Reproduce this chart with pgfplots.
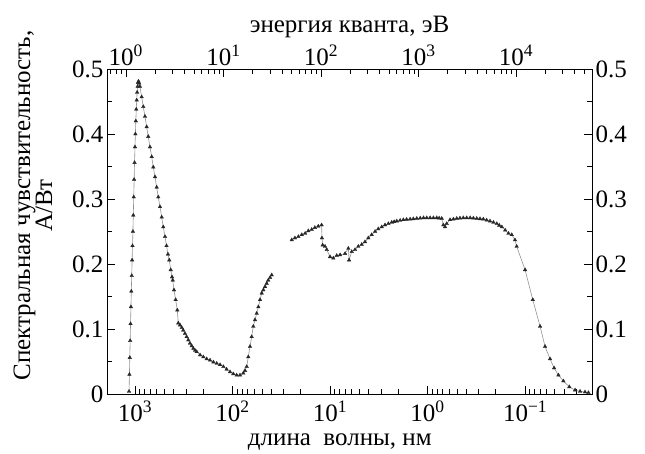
\documentclass[border=0pt]{standalone}
\usepackage{fontspec}
\setmainfont{Liberation Serif}
\usepackage{pgfplots}
\pgfplotsset{compat=1.18}
\begin{document}
\begin{tikzpicture}
\pgfplotsset{
  every axis/.append style={
    scale only axis, width=485pt, height=325pt,
    ymin=0, ymax=0.5,
    tick align=inside,
    major tick length=8pt, minor tick length=5pt,
    axis line style={line width=0.9pt},
    every tick/.style={black, line width=0.7pt},
    tick label style={font=\fontsize{25}{25}\selectfont},
    label style={font=\fontsize{25}{22}\selectfont},
    /pgf/number format/assume math mode=true,
    ytick={0,0.1,0.2,0.3,0.4,0.5},
    minor ytick={0.05,0.15,0.25,0.35,0.45},
    yticklabel style={/pgf/number format/fixed, /pgf/number format/precision=1},
  },
  curve/.style={gray!85, line width=0.6pt, mark=triangle*, mark size=2.1pt,
    mark options={fill=black!85, draw=black!85, line width=0.3pt}},
}
% wavelength axis (bottom, left)
\begin{axis}[name=main,
  xmode=log, x dir=reverse, xmin=0.0206, xmax=1936,
  xtick={1000,100,10,1,0.1},
  xticklabels={10\textsuperscript{3},10\textsuperscript{2},10\textsuperscript{1},10\textsuperscript{0},10\textsuperscript{−1}},
  minor xtick={200,300,400,500,600,700,800,900,20,30,40,50,60,70,80,90,2,3,4,5,6,7,8,9,0.2,0.3,0.4,0.5,0.6,0.7,0.8,0.9,0.03,0.04,0.05,0.06,0.07,0.08,0.09},
  xtick pos=left, ytick pos=left,
  xticklabel style={yshift=-3pt},
  xlabel={длина\ \ волны, нм},
  xlabel style={at={(ticklabel cs:0.48,5pt)}},
  ylabel={Спектральная чувствительность,\\А/Вт},
  ylabel style={align=center, at={(ticklabel cs:0.58,13pt)}},
]
\addplot[curve] coordinates {
(1150,0.004)(1140,0.030)(1130,0.056)(1120,0.082)(1110,0.108)(1100,0.134)
(1090,0.158)(1080,0.182)(1070,0.206)(1060,0.228)(1050,0.250)(1040,0.275)
(1030,0.303)(1020,0.330)(1010,0.356)(1000,0.380)(990,0.400)(980,0.420)
(970,0.438)(960,0.452)(950,0.464)(940,0.473)(930,0.479)(920,0.481)
(905,0.478)(889,0.473)(854,0.457)(822,0.442)(790,0.427)(759,0.411)
(731,0.396)(702,0.380)(674,0.365)(649,0.349)(623,0.334)(599,0.318)
(577,0.303)(554,0.288)(532,0.272)(513,0.257)(492,0.242)(475,0.228)
(459,0.215)(445,0.206)(430,0.191)(417,0.180)(410,0.175)(398,0.160)
(383,0.145)(368,0.129)(360,0.109)(345,0.106)(331,0.102)(320,0.098)
(307,0.093)(295,0.088)(284,0.083)(273,0.078)(262,0.074)(252,0.070)
(242,0.067)(233,0.065)(215,0.060)(199,0.057)(184,0.054)(170,0.052)
(157,0.049)(145,0.047)(134,0.045)(124,0.042)(115,0.038)(106,0.034)
(98.1,0.031)(90.6,0.029)(83.8,0.029)(77.5,0.032)(74.5,0.036)(71.5,0.042)
(68.9,0.057)(66.2,0.073)(63.6,0.088)(61.2,0.104)(58.8,0.114)(56.5,0.124)
(54.3,0.134)(52.2,0.145)(50.2,0.155)(48.3,0.160)(46.4,0.165)(44.6,0.170)
(43.0,0.175)(41.2,0.179)(39.6,0.183)
};
\addplot[curve] coordinates {
(24.7,0.237)(22.9,0.240)(21.1,0.242)(19.5,0.245)(18.0,0.247)(16.7,0.251)
(15.4,0.253)(14.3,0.256)(13.2,0.258)(12.2,0.260)(12.1,0.240)(11.9,0.229)
(11.25,0.227)(10.8,0.222)(10.0,0.211)(9.25,0.209)(8.54,0.213)(7.89,0.214)
(7.01,0.216)(6.49,0.224)(6.38,0.206)(5.99,0.219)(5.54,0.222)(5.13,0.227)
(4.73,0.230)(4.38,0.234)(4.05,0.240)(3.74,0.245)(3.45,0.250)(3.20,0.254)
(2.95,0.257)(2.73,0.260)(2.52,0.262)(2.33,0.264)(2.20,0.265)(2.07,0.266)
(1.91,0.267)(1.77,0.268)(1.64,0.2685)(1.51,0.269)(1.40,0.2695)(1.29,0.270)
(1.19,0.2705)(1.10,0.271)(1.02,0.271)(0.942,0.271)(0.871,0.271)(0.805,0.271)
(0.76,0.2705)(0.715,0.270)(0.689,0.260)(0.662,0.257)(0.636,0.262)(0.588,0.268)
(0.543,0.269)(0.502,0.270)(0.465,0.2705)(0.430,0.271)(0.397,0.271)(0.366,0.271)
(0.339,0.2705)(0.313,0.270)(0.290,0.2695)(0.268,0.269)(0.248,0.2675)(0.229,0.266)
(0.211,0.264)(0.195,0.262)(0.184,0.2595)(0.173,0.257)(0.160,0.252)(0.148,0.247)
(0.137,0.245)(0.127,0.237)(0.122,0.227)(0.100,0.191)(0.0834,0.145)(0.0702,0.104)
(0.0624,0.073)(0.0555,0.054)(0.0504,0.040)(0.0455,0.029)(0.0405,0.020)(0.0352,0.011)
(0.0307,0.006)(0.0273,0.004)(0.0243,0.003)(0.0224,0.002)
};
\end{axis}
% photon energy axis (top, right)
\begin{axis}[
  xmode=log, xmin=0.6405, xmax=60194,
  xtick={1,10,100,1000,10000},
  xticklabels={10\textsuperscript{0},10\textsuperscript{1},10\textsuperscript{2},10\textsuperscript{3},10\textsuperscript{4}},
  minor xtick={0.7,0.8,0.9,2,3,4,5,6,7,8,9,20,30,40,50,60,70,80,90,200,300,400,500,600,700,800,900,2000,3000,4000,5000,6000,7000,8000,9000,20000,30000,40000,50000,60000},
  xtick pos=right, xticklabel pos=right,
  ytick pos=right, yticklabel pos=right,
  xlabel={энергия кванта, эВ},
]
\end{axis}
\path (main.south west) ++(-107pt,-55pt) (main.north east) ++(53pt,69pt);
\end{tikzpicture}
\end{document}
